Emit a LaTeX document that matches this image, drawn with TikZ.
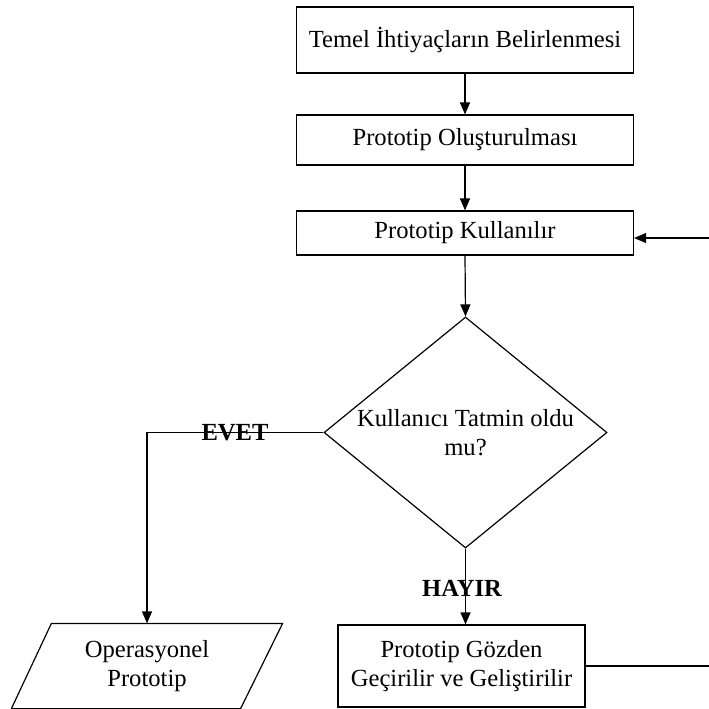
\documentclass[tikz,border=0pt]{standalone}
\usepackage{fontspec}
\setmainfont{Liberation Serif}
\usetikzlibrary{shapes.geometric,arrows.meta,calc}
\begin{document}
\begin{tikzpicture}[x=1pt,y=-1pt,
  font=\fontsize{24.6}{28.5}\selectfont,
  line width=1.2pt,
  arr/.style={-{Triangle[length=12pt,width=10pt]}},
  procbox/.style={draw, rectangle, minimum width=337pt, inner sep=2pt, align=center},
  decision/.style={draw, diamond, shape aspect=1.225, minimum width=283pt, minimum height=231pt, inner sep=0pt, align=center},
  lbl/.style={font=\fontsize{24.6}{28.5}\selectfont\bfseries, inner sep=0pt}]
\useasboundingbox (0,0) rectangle (709,709);
\clip (0,0) rectangle (709,709);

% process steps
\node[procbox, minimum height=66pt] (b1) at (465,40) {Temel İhtiyaçların Belirlenmesi};
\node[procbox, minimum height=50pt] (b2) at (465,140) {Prototip Oluşturulması};
\node[procbox, minimum height=44pt] (b3) at (465,233) {Prototip Kullanılır};

% decision
\node[decision] (d) at (465.5,432.5) {Kullanıcı Tatmin oldu\\mu?};

% revision step
\node[draw, rectangle, minimum width=247pt, minimum height=82pt, inner sep=2pt, align=center]
  (b4) at (461.5,666) {Prototip Gözden\\Geçirilir ve Geliştirilir};

% output (parallelogram)
\node[minimum width=230pt, minimum height=84pt, inner sep=0pt, align=center]
  (op) at (147,666) {Operasyonel\\Prototip};
\draw ($(op.north west)+(20,0)$) coordinate (p1)
  -- ($(op.north east)+(20,0)$) coordinate (p2)
  -- ($(op.south east)+(-22,0)$) coordinate (p3)
  -- ($(op.south west)+(-20,0)$) coordinate (p4) -- cycle;

% connectors
\draw[arr] (b1.south) -- (b2.north);
\draw[arr] (b2.south) -- (b3.north);
\draw[arr] (b3.south) -- (d.north);
\draw[arr] (d.west) -| (op.north);
\draw[arr] (d.south) -- (d.south |- b4.north);
\coordinate (loop) at (720,0);
\draw[arr] (b4.east) -- (loop |- b4.east) |- ([yshift=-5pt]b3.east);

% branch labels
\node[lbl] (evet) at (235,433) {EVET};
\node[lbl] (hayir) at (462,588) {HAYIR};
\end{tikzpicture}
\end{document}
